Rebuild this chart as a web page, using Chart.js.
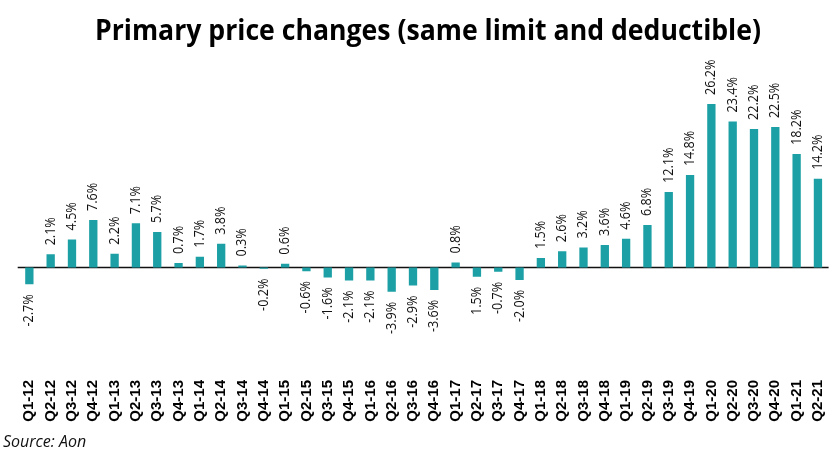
<!DOCTYPE html>
<html>
<head>
<meta charset="utf-8">
<script src="https://cdn.jsdelivr.net/npm/chart.js@4.4.0/dist/chart.umd.min.js"></script>
<style>
  html, body { margin: 0; padding: 0; background: #fff; }
  #wrap { width: 840px; height: 473px; }
</style>
</head>
<body>
<div id="wrap"><canvas id="BarChart"></canvas></div>
<script>
// quarters Q1-12 .. Q2-21
const quarters = ['Q1-12','Q2-12','Q3-12','Q4-12','Q1-13','Q2-13','Q3-13','Q4-13','Q1-14','Q2-14','Q3-14','Q4-14',
  'Q1-15','Q2-15','Q3-15','Q4-15','Q1-16','Q2-16','Q3-16','Q4-16','Q1-17','Q2-17','Q3-17','Q4-17',
  'Q1-18','Q2-18','Q3-18','Q4-18','Q1-19','Q2-19','Q3-19','Q4-19','Q1-20','Q2-20','Q3-20','Q4-20','Q1-21','Q2-21'];
const priceChange = [-2.7,2.1,4.5,7.6,2.2,7.1,5.7,0.7,1.7,3.8,0.3,-0.2,
  0.6,-0.6,-1.6,-2.1,-2.1,-3.9,-2.9,-3.6,0.8,-1.5,-0.7,-2.0,
  1.5,2.6,3.2,3.6,4.6,6.8,12.1,14.8,26.2,23.4,22.2,22.5,18.2,14.2];
// label texts as printed on the original (Q2-17 is printed without minus sign)
const valueLabels = ['-2.7%','2.1%','4.5%','7.6%','2.2%','7.1%','5.7%','0.7%','1.7%','3.8%','0.3%','-0.2%',
  '0.6%','-0.6%','-1.6%','-2.1%','-2.1%','-3.9%','-2.9%','-3.6%','0.8%','1.5%','-0.7%','-2.0%',
  '1.5%','2.6%','3.2%','3.6%','4.6%','6.8%','12.1%','14.8%','26.2%','23.4%','22.2%','22.5%','18.2%','14.2%'];

const titleText = 'Primary price changes (same limit and deductible)';
const sourceText = 'Source: Aon';
const barColor = '#1ca0a5';

const extras = {
  id: 'extras',
  beforeDatasetsDraw(chart){
    const c = chart.ctx;
    const y0 = chart.scales.y.getPixelForValue(0);
    c.save();
    c.strokeStyle = '#111';
    c.lineWidth = 1.6;
    c.beginPath();
    c.moveTo(chart.chartArea.left - 1, y0);
    c.lineTo(chart.chartArea.right, y0);
    c.stroke();
    c.restore();
  },
  afterDraw(chart){
    const c = chart.ctx;
    // title, squeezed to the width of the original
    c.save();
    c.font = 'bold 28px "Open Sans"';
    c.fillStyle = '#000';
    c.textBaseline = 'alphabetic';
    const w = c.measureText(titleText).width;
    c.translate(428, 40);
    c.scale(666 / w, 1);
    c.textAlign = 'center';
    c.fillText(titleText, 0, 0);
    c.restore();
    // source
    c.save();
    c.font = 'italic 16px "Open Sans"';
    c.fillStyle = '#111';
    c.textAlign = 'left';
    c.fillText(sourceText, 3, 447);
    c.restore();
    // value labels (rotated, a bit narrow like the original)
    const meta = chart.getDatasetMeta(0);
    c.save();
    c.font = '14px "Open Sans"';
    c.fillStyle = '#111';
    c.textBaseline = 'middle';
    meta.data.forEach((bar, i) => {
      const v = priceChange[i];
      c.save();
      if (v >= 0) {
        c.translate(bar.x, bar.y - 9);
        c.rotate(-Math.PI / 2);
        c.scale(0.9, 1);
        c.textAlign = 'left';
      } else {
        c.translate(bar.x, bar.y + 10);
        c.rotate(-Math.PI / 2);
        c.scale(0.9, 1);
        c.textAlign = 'right';
      }
      c.fillText(valueLabels[i], 0, 0);
      c.restore();
    });
    c.restore();
  }
};

const ctx = document.getElementById('BarChart').getContext('2d');
let BarChart = new Chart(ctx, {
  type: 'bar',
  data: {
    labels: quarters,
    datasets: [{
      label: 'Primary price change',
      data: priceChange,
      backgroundColor: barColor,
      borderWidth: 0,
      categoryPercentage: 1,
      barPercentage: 0.39
    }]
  },
  options: {
    responsive: true,
    maintainAspectRatio: false,
    animation: false,
    layout: { padding: { top: 70, left: 18.7, right: 4.4, bottom: 0 } },
    plugins: { legend: { display: false }, title: { display: false }, tooltip: { enabled: false } },
    scales: {
      x: {
        grid: { display: false, drawTicks: false },
        border: { display: false },
        afterFit(scale){ scale.height = 97; },
        ticks: {
          minRotation: 90, maxRotation: 90, autoSkip: false, padding: 4,
          color: '#000',
          font: { family: '"Liberation Sans", Arial, sans-serif', weight: 'bold', size: 15 }
        }
      },
      y: {
        display: false,
        min: -17.4,
        max: 31.65
      }
    }
  },
  plugins: [extras]
});
</script>
</body>
</html>
